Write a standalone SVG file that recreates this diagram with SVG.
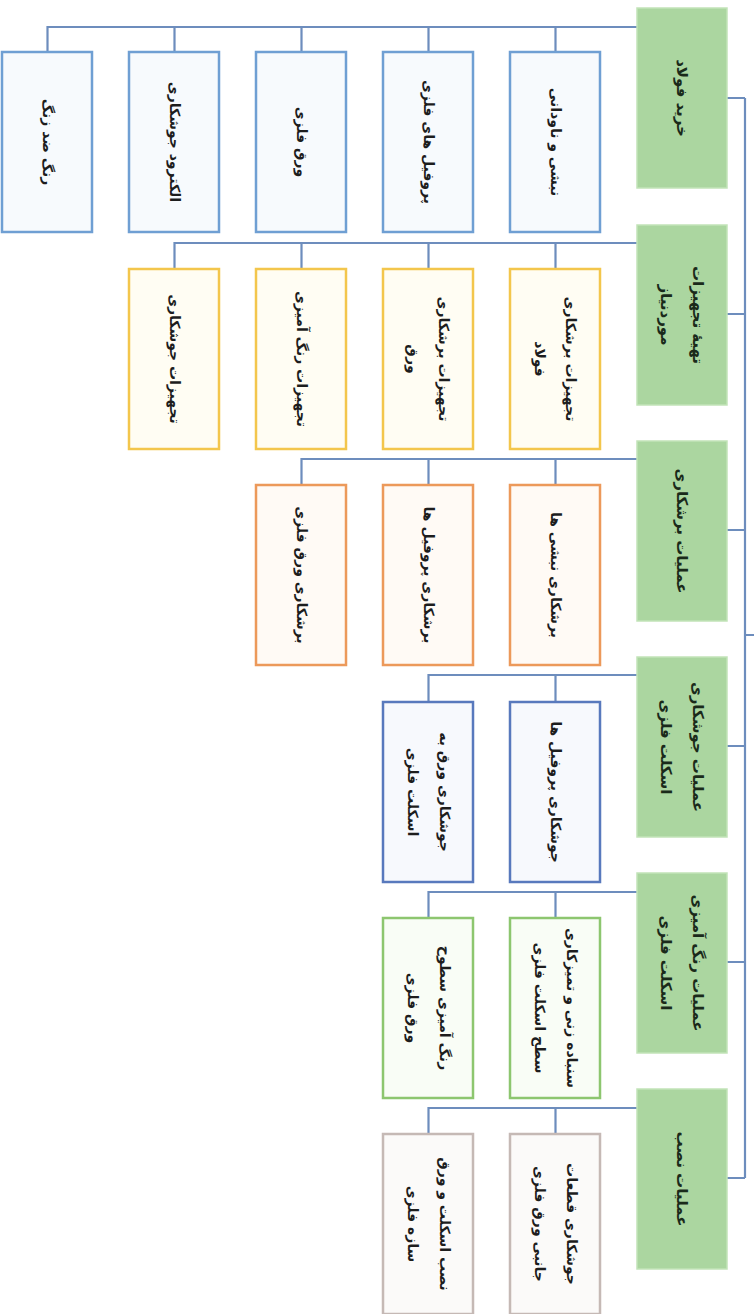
<svg xmlns="http://www.w3.org/2000/svg" width="754" height="1314" viewBox="0 0 754 1314">
<style>
.g{fill:#abd6a0;stroke:#c2e3b8;stroke-width:1.5}
.b{fill:#f7fafd;stroke:#6f9fd3;stroke-width:2.5}
.y{fill:#fffdf3;stroke:#f3c64c;stroke-width:2.5}
.o{fill:#fffaf5;stroke:#ec995a;stroke-width:2.5}
.d{fill:#f7f9fd;stroke:#5879bd;stroke-width:2.5}
.l{fill:#f9fdf6;stroke:#8dc66f;stroke-width:2.5}
.r{fill:#fbfaf9;stroke:#c5b9b5;stroke-width:2.5}
.t{font-family:"DejaVu Sans",sans-serif;font-size:14px;font-weight:bold;fill:#1d1d1d;text-anchor:middle;direction:rtl}
.tg{font-family:"DejaVu Sans",sans-serif;font-size:15px;font-weight:bold;fill:#1a2a1a;text-anchor:middle;direction:rtl}
#conn path{fill:none;stroke:#6d8dbd;stroke-width:2.2}
</style>
<g id="conn">
<path d="M745 98V1178M727 98H745M727 314H745M727 530H745M727 746H745M727 962H745M727 1178H745M745 635H754"/>
<path d="M637 27H47.5V52M174.5 27V52M301.5 27V52M428.5 27V52M555.5 27V52"/>
<path d="M637 243H174.5V269M301.5 243V269M428.5 243V269M555.5 243V269"/>
<path d="M637 459H301.5V485M428.5 459V485M555.5 459V485"/>
<path d="M637 675H428.5V702M555.5 675V702"/>
<path d="M637 892H428.5V918M555.5 892V918"/>
<path d="M637 1108H428.5V1134M555.5 1108V1134"/>
</g>

<g id="g1"><rect class="g" x="637" y="8" width="90" height="180"/><text class="tg" transform="translate(682 98) rotate(90)" dy="5">خرید فولاد</text></g>
<g id="g2"><rect class="g" x="637" y="225" width="90" height="180"/><text class="tg" transform="translate(682 315) rotate(90)"><tspan x="0" y="-11">تهیهٔ تجهیزات</tspan><tspan x="0" y="21">موردنیاز</tspan></text></g>
<g id="g3"><rect class="g" x="637" y="441" width="90" height="180"/><text class="tg" transform="translate(682 531) rotate(90)" dy="5">عملیات برشکاری</text></g>
<g id="g4"><rect class="g" x="637" y="657" width="90" height="180"/><text class="tg" transform="translate(682 747) rotate(90)"><tspan x="0" y="-11">عملیات جوشکاری</tspan><tspan x="0" y="21">اسکلت فلزی</tspan></text></g>
<g id="g5"><rect class="g" x="637" y="873" width="90" height="180"/><text class="tg" transform="translate(682 963) rotate(90)"><tspan x="0" y="-11">عملیات رنگ آمیزی</tspan><tspan x="0" y="21">اسکلت فلزی</tspan></text></g>
<g id="g6"><rect class="g" x="637" y="1089" width="90" height="180"/><text class="tg" transform="translate(682 1179) rotate(90)" dy="5">عملیات نصب</text></g>

<g id="b1"><rect class="b" x="510" y="52" width="90" height="180"/><text class="t" transform="translate(555.5 142) rotate(90)" dy="5">نبشی و ناودانی</text></g>
<g id="b2"><rect class="b" x="383" y="52" width="90" height="180"/><text class="t" transform="translate(428.5 142) rotate(90)" dy="5">پروفیل های فلزی</text></g>
<g id="b3"><rect class="b" x="256" y="52" width="90" height="180"/><text class="t" transform="translate(301.5 142) rotate(90)" dy="5">ورق فلزی</text></g>
<g id="b4"><rect class="b" x="129" y="52" width="90" height="180"/><text class="t" transform="translate(174.5 142) rotate(90)" dy="5">الکترود جوشکاری</text></g>
<g id="b5"><rect class="b" x="2" y="52" width="90" height="180"/><text class="t" transform="translate(47.5 142) rotate(90)" dy="5">رنگ ضد زنگ</text></g>

<g id="y1"><rect class="y" x="510" y="269" width="90" height="180"/><text class="t" transform="translate(555.5 359) rotate(90)"><tspan x="0" y="-10">تجهیزات برشکاری</tspan><tspan x="0" y="21">فولاد</tspan></text></g>
<g id="y2"><rect class="y" x="383" y="269" width="90" height="180"/><text class="t" transform="translate(428.5 359) rotate(90)"><tspan x="0" y="-10">تجهیزات برشکاری</tspan><tspan x="0" y="21">ورق</tspan></text></g>
<g id="y3"><rect class="y" x="256" y="269" width="90" height="180"/><text class="t" transform="translate(301.5 359) rotate(90)" dy="5">تجهیزات رنگ آمیزی</text></g>
<g id="y4"><rect class="y" x="129" y="269" width="90" height="180"/><text class="t" transform="translate(174.5 359) rotate(90)" dy="5">تجهیزات جوشکاری</text></g>

<g id="o1"><rect class="o" x="510" y="485" width="90" height="180"/><text class="t" transform="translate(555.5 575) rotate(90)" dy="5">برشکاری نبشی ها</text></g>
<g id="o2"><rect class="o" x="383" y="485" width="90" height="180"/><text class="t" transform="translate(428.5 575) rotate(90)" dy="5">برشکاری پروفیل ها</text></g>
<g id="o3"><rect class="o" x="256" y="485" width="90" height="180"/><text class="t" transform="translate(301.5 575) rotate(90)" dy="5">برشکاری ورق فلزی</text></g>

<g id="d1"><rect class="d" x="510" y="702" width="90" height="180"/><text class="t" transform="translate(555.5 792) rotate(90)" dy="5">جوشکاری پروفیل ها</text></g>
<g id="d2"><rect class="d" x="383" y="702" width="90" height="180"/><text class="t" transform="translate(428.5 792) rotate(90)"><tspan x="0" y="-11">جوشکاری ورق به</tspan><tspan x="0" y="21">اسکلت فلزی</tspan></text></g>

<g id="l1"><rect class="l" x="510" y="918" width="90" height="180"/><text class="t" transform="translate(555.5 1008) rotate(90)"><tspan x="0" y="-11">سنباده زنی و تمیزکاری</tspan><tspan x="0" y="21">سطح اسکلت فلزی</tspan></text></g>
<g id="l2"><rect class="l" x="383" y="918" width="90" height="180"/><text class="t" transform="translate(428.5 1008) rotate(90)"><tspan x="0" y="-11">رنگ آمیزی سطوح</tspan><tspan x="0" y="21">ورق فلزی</tspan></text></g>

<g id="r1"><rect class="r" x="510" y="1134" width="90" height="180"/><text class="t" transform="translate(555.5 1224) rotate(90)"><tspan x="0" y="-11">جوشکاری قطعات</tspan><tspan x="0" y="21">جانبی ورق فلزی</tspan></text></g>
<g id="r2"><rect class="r" x="383" y="1134" width="90" height="180"/><text class="t" transform="translate(428.5 1224) rotate(90)"><tspan x="0" y="-11">نصب اسکلت و ورق</tspan><tspan x="0" y="21">سازه فلزی</tspan></text></g>
</svg>
